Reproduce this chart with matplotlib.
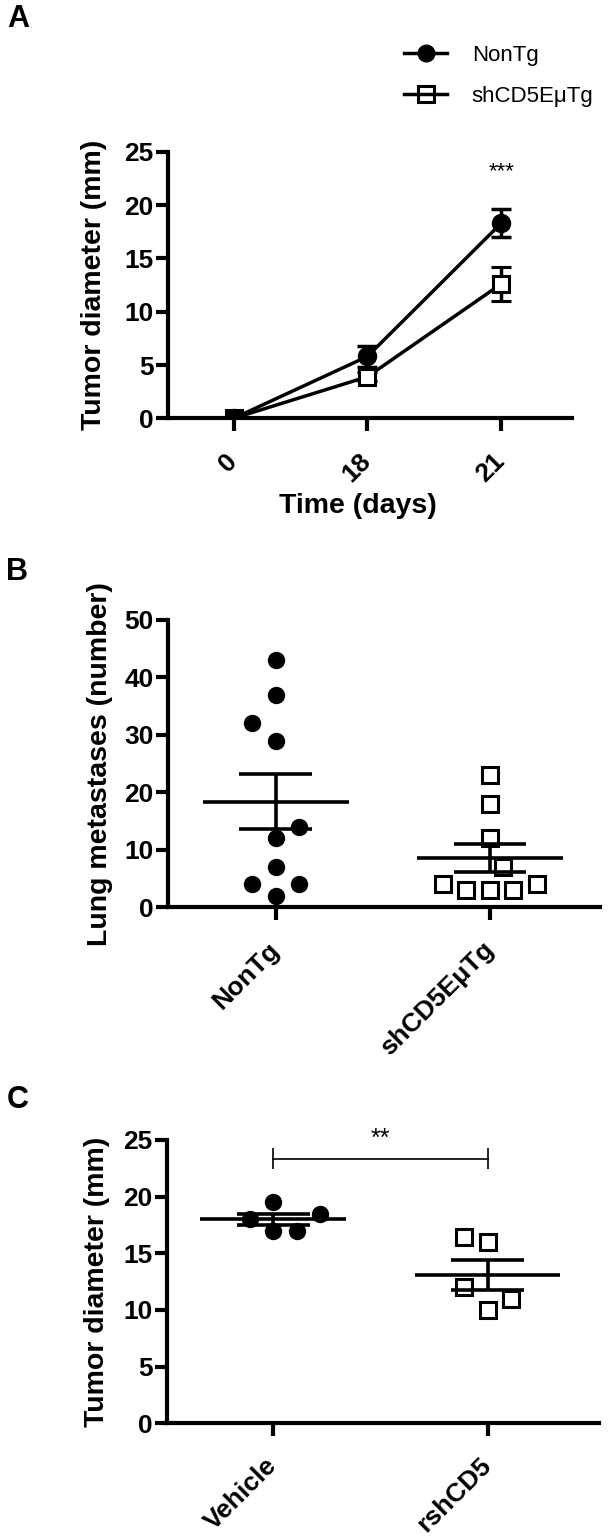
import numpy as np
import matplotlib
matplotlib.use("Agg")
import matplotlib.pyplot as plt
from matplotlib.lines import Line2D

plt.rcParams['font.family'] = ['Liberation Sans', 'DejaVu Sans']

# ---------------- data ----------------
# Panel A
days = ['0', '18', '21']
nontg_mean = [0.0, 5.8, 18.3]
nontg_sem = [0.0, 1.0, 1.3]
shcd5_mean = [0.0, 3.9, 12.6]
shcd5_sem = [0.0, 0.4, 1.6]

# Panel B
groups_b = ['NonTg', 'shCD5E\u03bcTg']
nontg_mets = [43, 37, 32, 29, 14, 12, 7, 4, 4, 2]
shcd5_mets = [23, 18, 12, 7, 4, 3, 3, 3, 4]

# Panel C
groups_c = ['Vehicle', 'rshCD5']
vehicle_diam = [19.5, 18.5, 18, 17, 17]
rshcd5_diam = [16.4, 16, 12, 11, 10]

# layout (horizontal scatter slots, not data)
nontg_slots = [0, 0, -1, 0, 1, 0, 0, -1, 1, 0]
shcd5_slots = [0, 0, 0, 0.55, -2, -1, 0, 1, 2]
vehicle_slots = [0, 2, -1, 0, 1]
rshcd5_slots = [-1, 0, -1, 1, 0]
SLOT = 0.11

LW = 3.0
TICKFS = 19
LABFS = 20.5

fig = plt.figure(figsize=(6.13, 15.38), dpi=100)


def style_axes(ax):
    for s in ['top', 'right']:
        ax.spines[s].set_visible(False)
    for s in ['left', 'bottom']:
        ax.spines[s].set_linewidth(LW)
    ax.tick_params(axis='both', width=LW, length=9, direction='out')
    ax.tick_params(axis='y', pad=1.5)
    ax.tick_params(axis='x', pad=19)
    for lab in ax.get_yticklabels():
        lab.set_fontsize(TICKFS)
        lab.set_fontweight('bold')


def set_xcats(ax, labels):
    ax.set_xticks(range(len(labels)))
    ax.set_xticklabels(labels, rotation=45, ha='right', va='center',
                       rotation_mode='anchor', fontsize=TICKFS,
                       fontweight='bold')


# ---------------- Panel A ----------------
axA = fig.add_axes([0.2741, 0.7280, 0.6591, 0.1733])
xA = np.arange(len(days))
axA.errorbar(xA, shcd5_mean, yerr=shcd5_sem, color='black', lw=2.5,
             marker='s', markersize=12, markerfacecolor='white',
             markeredgecolor='black', markeredgewidth=2.2,
             capsize=7, capthick=2.5, elinewidth=2.5, zorder=3)
axA.errorbar(xA, nontg_mean, yerr=nontg_sem, color='black', lw=2.5,
             marker='o', markersize=13, markerfacecolor='black',
             markeredgecolor='black', capsize=7, capthick=2.5,
             elinewidth=2.5, zorder=4)
axA.set_xlim(-0.49, 2.53)
axA.set_ylim(0, 25)
axA.set_yticks([0, 5, 10, 15, 20, 25])
style_axes(axA)
set_xcats(axA, days)
axA.set_ylabel('Tumor diameter (mm)', fontsize=LABFS, fontweight='bold')
axA.yaxis.set_label_coords(-0.151, 0.5)
axA.set_xlabel('Time (days)', fontsize=LABFS, fontweight='bold')
axA.xaxis.set_label_coords(0.47, -0.28)
axA.text(2, 23.1, '***', ha='center', va='center', fontsize=16)

leg_handles = [
    Line2D([], [], color='black', lw=2.5, marker='o', markersize=12,
           markerfacecolor='black', markeredgecolor='black'),
    Line2D([], [], color='black', lw=2.5, marker='s', markersize=11,
           markerfacecolor='none', markeredgecolor='black',
           markeredgewidth=2.2),
]
fig.legend(leg_handles, ['NonTg', 'shCD5E\u03bcTg'], loc='upper left',
           bbox_to_anchor=(404 / 613, 1 - 45 / 1538), frameon=False,
           fontsize=16, handlelength=1.95, handletextpad=1.1,
           labelspacing=0.9, borderpad=0, borderaxespad=0)


def dot_panel(ax, vals_list, slots_list, markers, width, cap):
    for i, (vals, slots, mk) in enumerate(zip(vals_list, slots_list, markers)):
        xs = i + np.array(slots) * SLOT
        if mk == 'o':
            ax.plot(xs, vals, linestyle='none', marker='o', markersize=11.5,
                    markerfacecolor='black', markeredgecolor='black', zorder=2)
        else:
            ax.plot(xs, vals, linestyle='none', marker='s', markersize=11,
                    markerfacecolor='white', markeredgecolor='black',
                    markeredgewidth=2.2, zorder=2)
        m = np.mean(vals)
        se = np.std(vals, ddof=1) / np.sqrt(len(vals))
        ax.hlines(m, i - width, i + width, color='black', lw=2.6, zorder=3)
        ax.hlines([m - se, m + se], i - cap, i + cap, color='black', lw=2.6,
                  zorder=3)
        ax.vlines(i, m - se, m + se, color='black', lw=2.6, zorder=3)


# ---------------- Panel B ----------------
axB = fig.add_axes([0.2741, 0.4101, 0.7047, 0.1868])
dot_panel(axB, [nontg_mets, shcd5_mets], [nontg_slots, shcd5_slots],
          ['o', 's'], 0.34, 0.17)
axB.set_xlim(-0.503, 1.514)
axB.set_ylim(0, 50)
axB.set_yticks([0, 10, 20, 30, 40, 50])
style_axes(axB)
set_xcats(axB, groups_b)
axB.set_ylabel('Lung metastases (number)', fontsize=LABFS, fontweight='bold')
axB.yaxis.set_label_coords(-0.127, 0.5)

# ---------------- Panel C ----------------
axC = fig.add_axes([0.2729, 0.07458, 0.7043, 0.1842])
dot_panel(axC, [vehicle_diam, rshcd5_diam], [vehicle_slots, rshcd5_slots],
          ['o', 's'], 0.34, 0.17)
axC.set_xlim(-0.495, 1.52)
axC.set_ylim(0, 25)
axC.set_yticks([0, 5, 10, 15, 20, 25])
style_axes(axC)
set_xcats(axC, groups_c)
axC.set_ylabel('Tumor diameter (mm)', fontsize=LABFS, fontweight='bold')
axC.yaxis.set_label_coords(-0.132, 0.5)
# significance bracket
axC.plot([0, 1], [23.3, 23.3], color='black', lw=1.2, clip_on=False)
axC.vlines([0, 1], 22.4, 24.3, color='black', lw=1.2, clip_on=False)
axC.text(0.5, 25.1, '**', ha='center', va='center', fontsize=18)

# panel letters
for letter, (x, y) in zip(['A', 'B', 'C'], [(18, 19), (17, 572), (18, 1100)]):
    fig.text(x / 613, 1 - y / 1538, letter, ha='center', va='center',
             fontsize=22, fontweight='bold')

fig.savefig('out.png', dpi=100)
